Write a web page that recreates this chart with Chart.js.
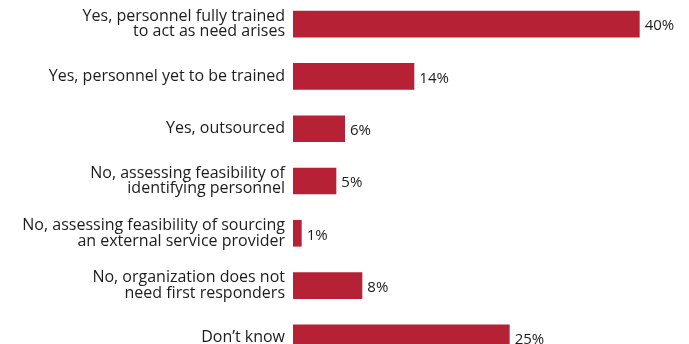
<!DOCTYPE html>
<html>
<head>
<meta charset="utf-8">
<script src="https://cdn.jsdelivr.net/npm/chart.js@4/dist/chart.umd.min.js"></script>
<style>
  html, body { margin: 0; padding: 0; background: #fff; overflow: hidden; }
  #responders { position: absolute; left: 0; top: -2px; }
</style>
</head>
<body>
<canvas id="responders" width="689" height="366"></canvas>
<script>
const answers = [
  ['Yes, personnel fully trained', 'to act as need arises'],
  'Yes, personnel yet to be trained',
  'Yes, outsourced',
  ['No, assessing feasibility of', 'identifying personnel'],
  ['No, assessing feasibility of sourcing', 'an external service provider'],
  ['No, organization does not', 'need first responders'],
  'Don\u2019t know'
];
const shares = [40, 14, 6, 5, 1, 8, 25];
const barColor = '#b72136';
const textColor = '#1c1c1c';
const fontFamily = '"Open Sans", sans-serif';

// writes "NN%" just past the end of each bar
const valueLabels = {
  id: 'valueLabels',
  afterDatasetsDraw(chart) {
    const ctx = chart.ctx;
    const meta = chart.getDatasetMeta(0);
    ctx.save();
    ctx.font = '15px ' + fontFamily;
    ctx.fillStyle = textColor;
    ctx.textBaseline = 'middle';
    ctx.textAlign = 'left';
    meta.data.forEach((bar, i) => {
      ctx.fillText(shares[i] + '%', bar.x + 5, bar.y + 2);
    });
    ctx.restore();
  }
};

new Chart(document.getElementById('responders'), {
  type: 'bar',
  data: {
    labels: answers,
    datasets: [{
      data: shares,
      backgroundColor: barColor,
      borderWidth: 0,
      categoryPercentage: 1,
      barPercentage: 0.51
    }]
  },
  plugins: [valueLabels],
  options: {
    indexAxis: 'y',
    responsive: false,
    animation: false,
    layout: { padding: { left: 0, right: 6, top: 0, bottom: 0 } },
    plugins: {
      legend: { display: false },
      tooltip: { enabled: false }
    },
    scales: {
      x: {
        display: false,
        min: 0,
        max: 45
      },
      y: {
        grid: { display: false, drawTicks: false },
        border: { display: false },
        afterFit(scale) {
          // fixed label column, and no extra room for the first/last label
          scale.width = 293;
          scale.paddingTop = 0;
          scale.paddingBottom = 0;
        },
        ticks: {
          color: textColor,
          padding: 8,
          font: { family: fontFamily, size: 16, lineHeight: 0.97 }
        }
      }
    }
  }
});
</script>
</body>
</html>
